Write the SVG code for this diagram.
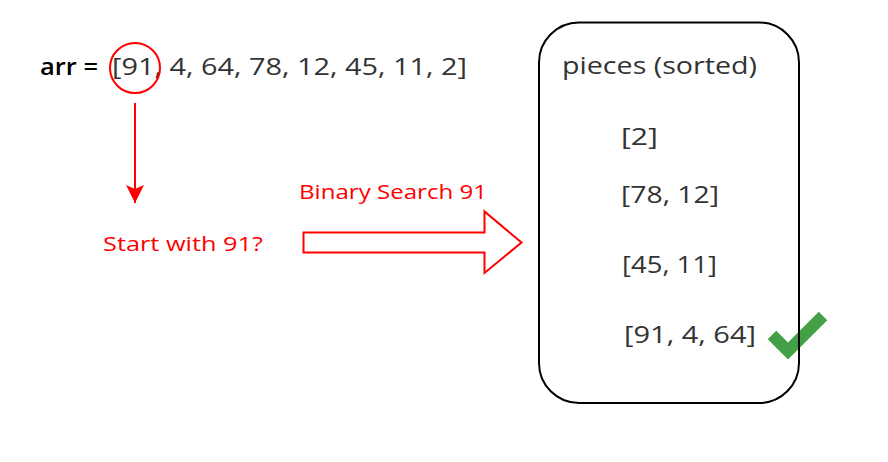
<svg xmlns="http://www.w3.org/2000/svg" width="888" height="462" viewBox="0 0 888 462">
<style>
.t{font-family:"Open Sans","Liberation Sans",sans-serif;}
.dark{fill:#333333;font-size:24px;}
.red{fill:#ff0000;font-size:20px;}
</style>
<defs>
<marker id="ah" markerWidth="20" markerHeight="20" refX="18" refY="10" orient="auto" markerUnits="userSpaceOnUse" viewBox="0 0 20 20">
<path d="M18,10 L0,1 L4,10 L0,19 Z" fill="#ff0000"/>
</marker>
</defs>
<rect width="888" height="462" fill="#ffffff"/>
<g id="array">
<text class="t" x="40" y="75" font-size="24" font-weight="600" fill="#000000" textLength="58" lengthAdjust="spacingAndGlyphs">arr =</text>
<text class="t dark" x="112" y="75" textLength="355" lengthAdjust="spacingAndGlyphs">[91, 4, 64, 78, 12, 45, 11, 2]</text>
</g>
<g id="highlight">
<circle cx="135" cy="68" r="25" fill="none" stroke="#ff0000" stroke-width="2"/>
</g>
<g id="start-label">
<text class="t red" x="103" y="251" textLength="160" lengthAdjust="spacingAndGlyphs">Start with 91?</text>
</g>
<g id="search-label">
<text class="t red" x="299" y="199" textLength="188" lengthAdjust="spacingAndGlyphs">Binary Search 91</text>
</g>
<g id="check">
<polyline points="772,335 788,351 823,316" fill="none" stroke="#43a047" stroke-width="12" stroke-linejoin="miter"/>
</g>
<g id="pieces">
<rect x="539" y="22.5" width="260" height="380.5" rx="40" ry="40" fill="none" stroke="#000000" stroke-width="2"/>
<text class="t dark" x="562" y="74" textLength="195" lengthAdjust="spacingAndGlyphs">pieces (sorted)</text>
<text class="t dark" x="621" y="145" textLength="37" lengthAdjust="spacingAndGlyphs">[2]</text>
<text class="t dark" x="621" y="203" textLength="98" lengthAdjust="spacingAndGlyphs">[78, 12]</text>
<text class="t dark" x="622" y="273" textLength="95" lengthAdjust="spacingAndGlyphs">[45, 11]</text>
<text class="t dark" x="624" y="343" textLength="132" lengthAdjust="spacingAndGlyphs">[91, 4, 64]</text>
</g>
<g id="connectors">
<line x1="135" y1="103" x2="135" y2="203" stroke="#ff0000" stroke-width="2" marker-end="url(#ah)"/>
<path d="M303.5,232.5 L484.5,232.5 L484.5,211.5 L521.5,242.5 L484.5,273 L484.5,252.5 L303.5,252.5 Z" fill="#ffffff" stroke="#ff0000" stroke-width="2" stroke-linejoin="miter"/>
</g>
</svg>
